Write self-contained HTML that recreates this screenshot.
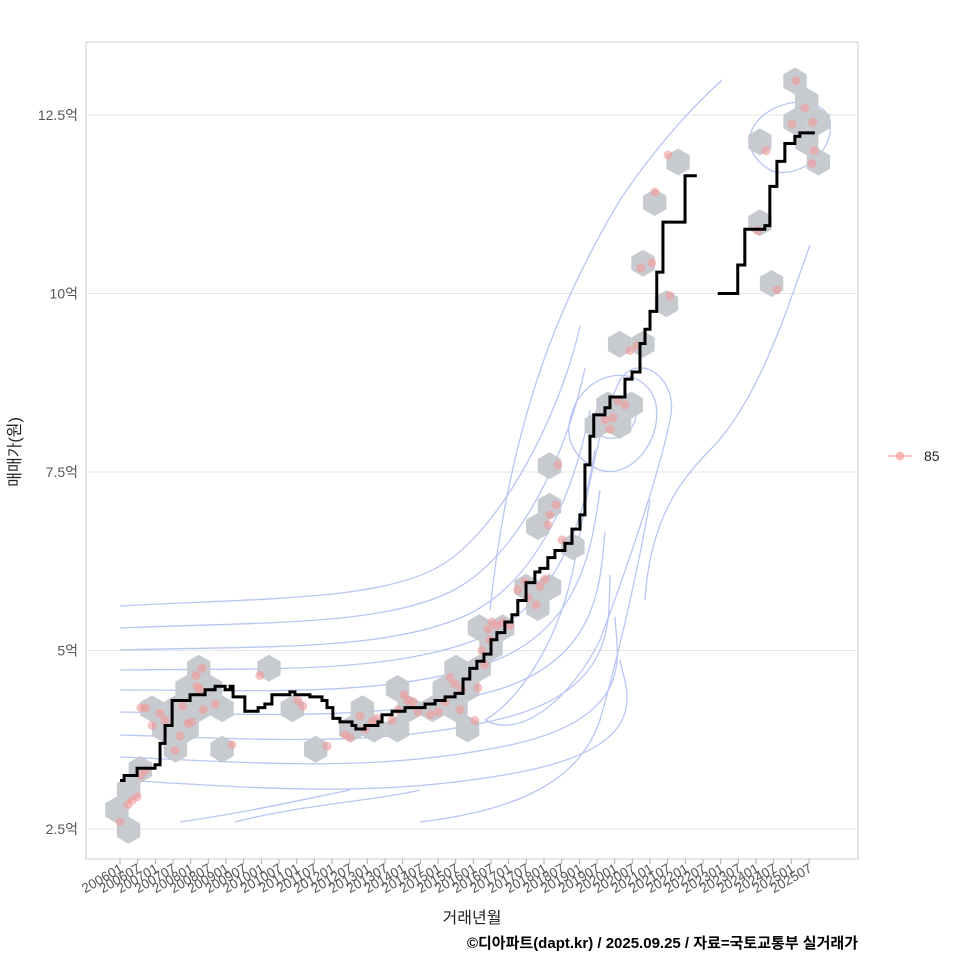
<!DOCTYPE html>
<html><head><meta charset="utf-8">
<style>
body{margin:0;background:#fff;}
svg{display:block;font-family:"Liberation Sans","Noto Sans CJK KR",sans-serif;}
</style></head>
<body>
<svg id="chart" width="960" height="960">
<rect x="0" y="0" width="960" height="960" fill="#fff"/>
<g id="grid"></g>
<g id="contours" fill="none" stroke="#b8c6f2" stroke-width="1.3"></g>
<g id="hexes"></g>
<g id="points"></g>
<g id="line"></g>
<rect x="86" y="42" width="772" height="817" fill="none" stroke="#cccccc" stroke-width="1"/>
<g id="axes"></g>
<text x="20" y="452" font-size="16" fill="#222" text-anchor="middle" transform="rotate(-90 20 452)">매매가(원)</text>
<text x="472" y="923" font-size="16" fill="#222" text-anchor="middle">거래년월</text>
<text x="858" y="948" font-size="15" font-weight="bold" fill="#000" text-anchor="end">©디아파트(dapt.kr) / 2025.09.25 / 자료=국토교통부 실거래가</text>
<g>
<line x1="888" y1="456" x2="912" y2="456" stroke="#f4a0a0" stroke-width="1.2"/>
<circle cx="900" cy="456" r="4.5" fill="#f4a0a0" opacity="0.7"/>
<text x="924" y="461" font-size="14" fill="#222">85</text>
</g>
</svg>
<script>
const yTicks=[2.5,5,7.5,10,12.5];
const yTickLabels=["2.5억","5억","7.5억","10억","12.5억"];
const xTickLabels=[];
for(let y=2006;y<=2025;y++){xTickLabels.push(y+"01");xTickLabels.push(y+"07");}
const pointMonths=[0,2.7,4.1,5.8,7.1,8.5,8.8,10.9,13.6,15.3,18.7,20.4,21.4,23.1,24.4,25.8,26.1,27.2,28.2,27.8,32.3,38,47.5,60.4,62.1,70.3,76.4,78.1,81.5,83.2,85.6,87.3,92.4,94.4,96.4,97.8,99.5,101.2,105.3,108,110.4,112.1,113.8,115.4,116.1,120.5,121.6,122.9,123.9,125.6,125,126.3,128,130,132.4,135.1,137.5,138.5,141.3,142.6,144.3,145.3,146,148,150.1,148.7,164.7,166.4,167.4,169.1,171.5,173.2,175.6,176.9,180.6,181.7,186.1,186.8,216.6,219.4,223.1,228.2,229.5,232.6,235.3,235.7,235,7.1];
const pointValues=[2.6,2.84,2.9,2.95,3.25,3.32,4.2,3.95,4.12,4.02,3.6,3.8,4.22,3.98,4.0,4.65,4.5,4.45,4.17,4.75,4.25,3.68,4.65,4.3,4.22,3.66,3.82,3.78,4.08,3.9,4.0,4.05,4.02,4.17,4.38,4.3,4.28,4.14,4.1,4.14,4.28,4.62,4.53,4.17,4.45,4.02,4.48,5.0,4.8,5.15,5.3,5.4,5.35,5.4,5.35,5.85,5.96,5.74,5.64,5.9,6.0,6.76,6.9,7.04,6.55,7.6,8.23,8.1,8.26,8.5,8.44,9.2,9.27,10.36,10.43,11.42,11.94,9.97,10.88,12.0,10.05,12.37,12.98,12.6,12.4,12.0,11.82,4.2,4.1];
const lineMonths=[0,1.4,5.8,11.9,13.6,15.3,17.7,23.8,28.9,32.3,35.7,37.4,38.4,42.4,46.9,49.2,51.6,57.7,59.4,64.5,68.6,70.3,72.3,74.7,78.8,80.1,83.2,87.6,89,92.4,96.8,103.6,107,110.4,113.8,116.5,118.8,121.2,123.6,126,128,130.7,133.1,135.1,137.9,140.9,142.6,145.3,147.7,151.1,153.5,156.2,157.9,159.6,160.9,164.7,166.4,171.5,173.9,176.6,178.3,180,182.3,184.4,191.9,195.9,203,209.8,212.2,219,220.7,223.1,225.8,229.2,230.9,236];
const lineValues=[3.18,3.25,3.35,3.4,3.7,3.95,4.3,4.38,4.45,4.5,4.45,4.5,4.35,4.15,4.2,4.25,4.38,4.42,4.38,4.35,4.3,4.2,4.05,4.0,3.95,3.9,3.95,4.0,4.1,4.15,4.2,4.25,4.3,4.35,4.4,4.6,4.75,4.85,4.95,5.15,5.25,5.4,5.5,5.7,5.95,6.1,6.15,6.3,6.4,6.5,6.7,6.9,7.6,8.0,8.3,8.4,8.55,8.8,8.9,9.3,9.5,9.75,10.3,11.0,11.65,null,10.0,10.4,10.9,10.95,11.5,11.85,12.1,12.2,12.25,null];

const NS="http://www.w3.org/2000/svg";
const xs=m=>120+m*(809-120)/234;
const ys=v=>829-(v-2.5)*(829-115)/10;
function mk(tag,attrs,parent){const e=document.createElementNS(NS,tag);for(const k in attrs)e.setAttribute(k,attrs[k]);parent.appendChild(e);return e;}
const grid=document.getElementById('grid'),axes=document.getElementById('axes');
yTicks.forEach((t,i)=>{
  const g=mk('line',{x1:86,x2:858,y1:ys(t),y2:ys(t),stroke:'#e6e6e6','stroke-width':1},grid);
  
  
  const tx=mk('text',{x:78,y:ys(t)+5,'font-size':14,fill:'#555','text-anchor':'end'},axes);
  tx.textContent=yTickLabels[i];
  
  
});
xTickLabels.forEach((l,i)=>{
  const x=xs(i*6);
  const tk=mk('line',{x1:x,x2:x,y1:859,y2:864,stroke:'#aaa'},axes);
  
  
  const tx=mk('text',{x:x+4,y:871,'font-size':13.5,fill:'#555','text-anchor':'end',transform:`rotate(-30 ${x+4} 871)`},axes);
  tx.textContent=l;
  
  
});
// contours (decorative density outlines)
const cg=document.getElementById('contours');
const starts=[606,628,650,670,690,712,735,757,780];
starts.forEach((y0,i)=>{
  const k=i;
  const d=`M120 ${y0} C 260 ${y0-8+k*2}, 380 ${y0-5+k*3}, ${440+k*10} ${y0-40+k*4} S ${560+k*8} ${y0-190+k*12}, ${580+k*5} ${y0-280+k*20}`;
  const p=mk('path',{d:d},cg);
  
  
});
[["M485 720 C 520 700 560 640 575 560 C 590 480 600 420 620 380 C 640 350 680 380 670 420 C 660 470 630 560 600 640 C 570 700 520 740 485 720"],
 ["M570 420 C 580 370 640 360 655 400 C 665 440 630 480 600 470 C 575 460 565 440 570 420"],
 ["M595 415 C 600 395 630 395 635 410 C 640 430 615 445 600 435 Z"],
 ["M490 610 C 510 420 560 300 620 200 C 660 140 700 100 722 80"],
 ["M645 600 C 650 520 680 480 710 450 C 760 400 790 300 810 245"],
 ["M750 135 C 760 100 820 90 830 120 C 835 160 790 180 770 170 C 755 160 748 150 750 135"],
 ["M420 822 C 520 810 580 780 600 720 C 620 650 640 560 650 500"],
 ["M180 822 C 260 810 300 800 350 790"],["M235 822 C 300 805 380 800 420 790"]
].forEach(a=>{const p=mk('path',{d:a[0]},cg);
  
  });
// hexbins from points
const hr=13.5,hw=hr*Math.sqrt(3),vh=hr*1.5;
const bins={};
pointMonths.forEach((m,i)=>{
  const px=xs(m),py=ys(pointValues[i]);
  let best=null,bd=1e9;
  const r0=Math.round(py/vh);
  for(let r=r0-1;r<=r0+1;r++){
    const off=(r%2)?hw/2:0;
    const c=Math.round((px-off)/hw);
    for(let cc=c-1;cc<=c+1;cc++){
      const cx=cc*hw+off,cy=r*vh,dd=(cx-px)**2+(cy-py)**2;
      if(dd<bd){bd=dd;best=[cx,cy];}
    }
  }
  const key=best.join(',');bins[key]=(bins[key]||0)+1;
});
const hg=document.getElementById('hexes');
Object.keys(bins).forEach(k=>{
  const [cx,cy]=k.split(',').map(Number);
  let pts=[];for(let a=0;a<6;a++){const t=Math.PI/3*a+Math.PI/6;pts.push((cx+hr*Math.cos(t)).toFixed(1)+','+(cy+hr*Math.sin(t)).toFixed(1));}
  const h=mk('polygon',{points:pts.join(' '),fill:bins[k]>=5?'#c9d9ec':'#c4c8cd',opacity:0.95},hg);
  
  
});
const pg=document.getElementById('points');
pointMonths.forEach((m,i)=>{
  const c=mk('circle',{cx:xs(m),cy:ys(pointValues[i]),r:4.5,fill:'#f29a9a',opacity:0.6},pg);
  
  
});
// step line
let d='',prev=null;
for(let i=0;i<lineMonths.length;i++){
  const x=xs(lineMonths[i]);
  if(prev===null){ if(lineValues[i]!==null){d+=`M${x} ${ys(lineValues[i])}`;prev=lineValues[i];} continue;}
  d+=` H${x}`;
  if(lineValues[i]===null){prev=null;continue;}
  d+=` V${ys(lineValues[i])}`;prev=lineValues[i];
}
const lp=mk('path',{d:d,fill:'none',stroke:'#000','stroke-width':3},document.getElementById('line'));


</script>
</body></html>
